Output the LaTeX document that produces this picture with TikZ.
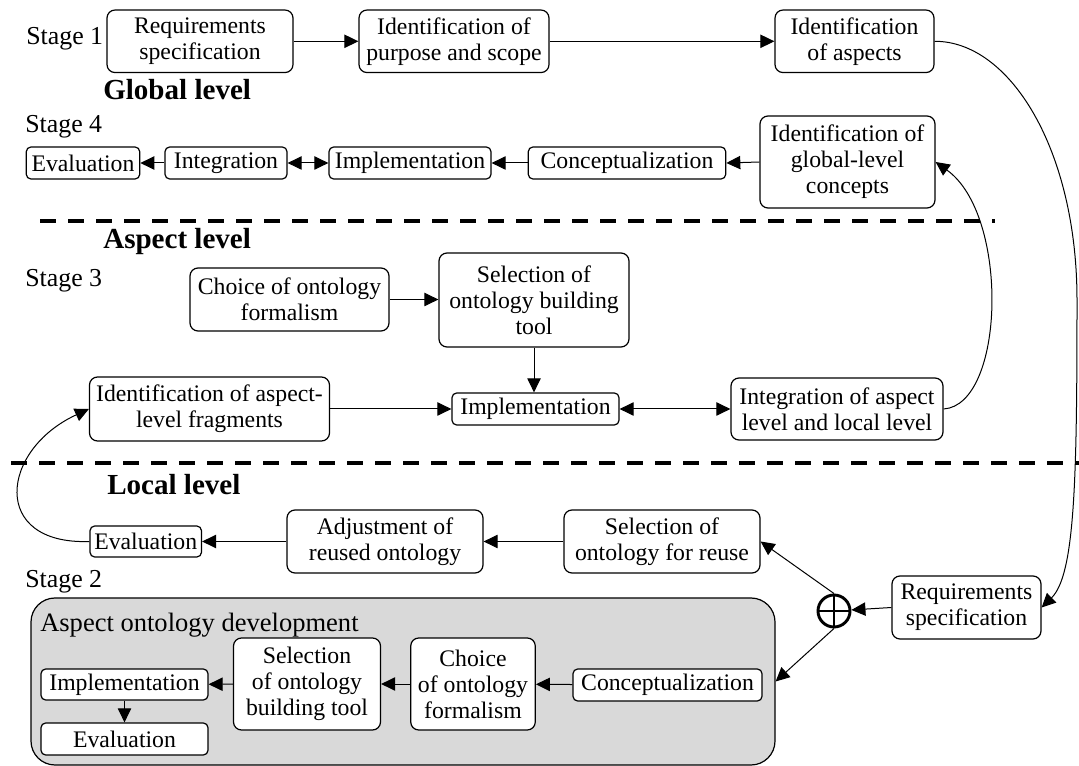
\documentclass[tikz,border=0pt]{standalone}
\usepackage{fontspec}
\setmainfont{Liberation Serif}
\usetikzlibrary{arrows.meta}

\begin{document}
\begin{tikzpicture}[x=0.75pt, y=-0.75pt,
		box/.style={draw, line width=0.9pt, rounded corners=6pt, fill=white, align=center, inner sep=0pt, font=\fontsize{17.8}{19.5}\selectfont},
		flatbox/.style={box, rounded corners=3.5pt},
		stagelabel/.style={anchor=base west, inner sep=0pt, font=\fontsize{19.4}{22}\selectfont},
		levellabel/.style={anchor=base west, inner sep=0pt, font=\fontsize{21.8}{24}\selectfont\bfseries},
		arr/.style={-{Triangle[length=10.5pt, width=10pt]}, line width=0.75pt},
		darr/.style={{Triangle[length=10.5pt, width=10pt]}-{Triangle[length=10.5pt, width=10pt]}, line width=0.75pt},
		levelsep/.style={line width=2.5pt, dash pattern=on 12pt off 9pt}]
	\useasboundingbox (0,0) rectangle (1079,766);

	\draw[levelsep] (40,221) -- (995,221);
	\draw[levelsep] (11,463) -- (1079,463);

	\node[stagelabel] (st1) at (26,45) {Stage 1};
	\node[levellabel] (glevel) at (103,100) {Global level};
	\node[stagelabel] (st4) at (25,133) {Stage 4};
	\node[levellabel] (alevel) at (103,249) {Aspect level};
	\node[stagelabel] (st3) at (25,287) {Stage 3};
	\node[levellabel] (llevel) at (107,495) {Local level};
	\node[stagelabel] (st2) at (25,588) {Stage 2};

	\node[box, minimum width=139.5pt, minimum height=46.9pt] (req1) at (200,41.3) {Requirements\\specification};
	\node[box, minimum width=142.5pt, minimum height=46.9pt] (purp) at (454,41.3) {Identification of\\purpose and scope};
	\node[box, minimum width=119.25pt, minimum height=46.9pt] (asp) at (854.5,41.3) {Identification\\of aspects};

	\node[flatbox, minimum width=85.1pt, minimum height=24pt] (eval4) at (83,163) {Evaluation};
	\node[flatbox, minimum width=91.5pt, minimum height=24pt] (integ4) at (226,163) {Integration};
	\node[flatbox, minimum width=121.5pt, minimum height=24pt] (impl4) at (410,163) {Implementation};
	\node[flatbox, minimum width=148.1pt, minimum height=24pt] (conc4) at (627,163) {Conceptualization};
	\node[box, minimum width=131.25pt, minimum height=69pt] (glob) at (847.5,162) {Identification of\\global-level\\concepts};

	\node[box, minimum width=149.25pt, minimum height=47.25pt] (choice3) at (289.5,299.5) {Choice of ontology\\formalism};
	\node[box, minimum width=142.5pt, minimum height=70.5pt] (sel3) at (534,300) {Selection of\\ontology building\\tool};
	\node[flatbox, minimum width=125.25pt, minimum height=24pt] (impl3) at (535.5,409) {Implementation};
	\node[box, minimum width=180pt, minimum height=48pt] (frag) at (209.5,409) {Identification of aspect-\\level fragments};
	\node[box, minimum width=159pt, minimum height=46.5pt] (integ3) at (837,409) {Integration of aspect\\level and local level};

	\node[flatbox, minimum width=83.6pt, minimum height=23.25pt] (eval2) at (145.75,541.5) {Evaluation};
	\node[box, minimum width=147pt, minimum height=47.25pt] (adj) at (385,541.5) {Adjustment of\\reused ontology};
	\node[box, minimum width=147pt, minimum height=47.25pt] (reuse) at (662,541.5) {Selection of\\ontology for reuse};
	\node[draw, circle, line width=2.2pt, minimum size=24pt, inner sep=0pt] (oplus) at (834,611) {};
	\draw[line width=2.2pt] (oplus.north) -- (oplus.south) (oplus.west) -- (oplus.east);
	\node[box, minimum width=111.75pt, minimum height=47.25pt] (req2) at (966.5,607.5) {Requirements\\specification};

	\node[draw, line width=0.9pt, rounded corners=18pt, fill=gray!30, minimum width=558pt, minimum height=125.25pt] (aod) at (403,681.5) {};
	\node[anchor=base west, inner sep=0pt, font=\fontsize{19.9}{22}\selectfont] (aodtitle) at (40,632) {Aspect ontology development};
	\node[flatbox, minimum width=141.75pt, minimum height=24pt] (conc2) at (667.5,685) {Conceptualization};
	\node[box, minimum width=93.4pt, minimum height=69pt] (choice2) at (473,684) {Choice\\of ontology\\formalism};
	\node[box, minimum width=110.25pt, minimum height=69pt] (sel2) at (307,684) {Selection\\of ontology\\building tool};
	\node[flatbox, minimum width=125.25pt, minimum height=23.25pt] (impl2) at (124.5,684.5) {Implementation};
	\node[flatbox, minimum width=125.25pt, minimum height=24pt] (eval2b) at (124.5,739) {Evaluation};

	\draw[arr] (req1) -- (purp);
	\draw[arr] (purp) -- (asp);
	\draw[arr] (asp.east) .. controls (1010,41) and (1077,150) .. (1077,300) .. controls (1077,480) and (1075,575) .. (req2.east);

	\draw[arr] (glob.west) -- (conc4.east);
	\draw[arr] (conc4) -- (impl4);
	\draw[darr] (integ4) -- (impl4);
	\draw[arr] (integ4) -- (eval4);

	\draw[arr] (choice3.east) -- (choice3.east -| sel3.west);
	\draw[arr] (sel3.south) -- (sel3.south |- impl3.north);
	\draw[arr] (frag) -- (impl3);
	\draw[darr] (impl3) -- (integ3);
	\draw[arr] (integ3.east) .. controls (1005,405) and (1010,215) .. (glob.east);

	\draw[arr] (eval2.west) .. controls (-10,545) and (0,450) .. (frag.west);
	\draw[arr] (adj) -- (eval2);
	\draw[arr] (reuse) -- (adj);
	\draw[arr] (req2.west) -- (oplus);
	\draw[arr] (oplus.north) -- (reuse.east);
	\draw[arr] (oplus.south) -- (aod.east);

	\draw[arr] (conc2) -- (choice2);
	\draw[arr] (choice2) -- (sel2);
	\draw[arr] (sel2) -- (impl2);
	\draw[arr] (impl2) -- (eval2b);
\end{tikzpicture}
\end{document}
